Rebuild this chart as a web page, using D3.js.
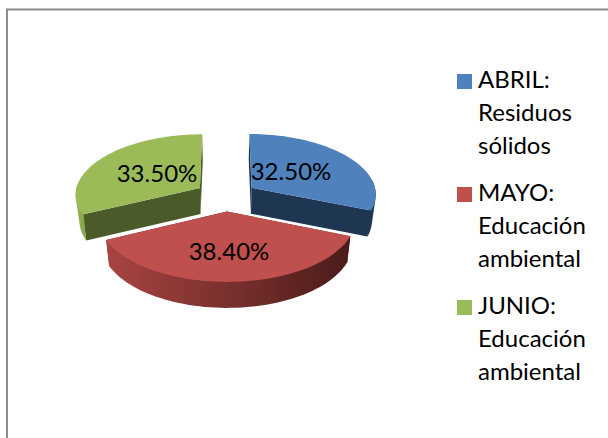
<!DOCTYPE html>
<html>
<head>
<meta charset="utf-8">
<script src="https://cdn.jsdelivr.net/npm/d3@7"></script>
<style>
  html, body { margin: 0; padding: 0; background: #fff; }
  text { font-family: Lato, "Open Sans", sans-serif; fill: #000; }
</style>
</head>
<body>
<div id="chart"></div>
<script>
const categories = ["ABRIL", "MAYO", "JUNIO"];
const legendLines = [
  ["ABRIL:", "Residuos", "sólidos"],
  ["MAYO:", "Educación", "ambiental"],
  ["JUNIO:", "Educación", "ambiental"]
];
const values = [32.5, 38.4, 33.5];
const valueLabels = ["32.50%", "38.40%", "33.50%"];

const topColors = ["#4f81bd", "#c0504d", "#9bbb59"];
const wallColors = ["#1f3653", "#4f1f1d", "#4a5a28"];
const rimFrom = ["#1f3653", "#a84442", "#95b457"];
const rimTo = ["#1f3653", "#4a1c1a", "#8aa84f"];

const width = 608, height = 438;
const cx = 226, cy = 196;
const rx = 125, ry = 60.4;
const persp = 0.097;
const explode = 0.25;
const depth = 26;
const baseShrink = 0.975;

const svg = d3.select("#chart")
  .append("svg")
  .attr("width", width)
  .attr("height", height);

// chart area border, only top and left show in the picture
svg.append("path")
  .attr("d", `M7,${height}V9.5H${width}`)
  .attr("fill", "none")
  .attr("stroke", "#8c8c8c")
  .attr("stroke-width", 2);

const defs = svg.append("defs");

// project a point on the pie plane to the screen
function project(X, Z, low) {
  const s = 1 / (1 + persp * Z);
  const k = low ? baseShrink : 1;
  return [
    cx + rx * X * s * k,
    cy - ry * Z * s + (low ? depth : 0)
  ];
}

const pie = d3.pie().sort(null).value(d => d);
const arcs = pie(values);

const line = d3.line();

const slices = arcs.map((a, i) => {
  const mid = (a.startAngle + a.endAngle) / 2;
  const ox = explode * Math.sin(mid), oz = explode * Math.cos(mid);
  const angles = d3.range(0, 61).map(k => a.startAngle + (a.endAngle - a.startAngle) * k / 60);
  const rim = angles.map(t => [ox + Math.sin(t), oz + Math.cos(t)]);
  return { i, a, apex: [ox, oz], rim, mid };
});

const ring = (s, low) => s.rim.map(p => project(p[0], p[1], low));
const apexTop = s => project(s.apex[0], s.apex[1], false);
const apexLow = s => project(s.apex[0], s.apex[1], true);

const g = svg.append("g");

// back slices first, the red one sits in front
[0, 2, 1].forEach(i => {
  const s = slices[i];
  const top = ring(s, false), low = ring(s, true);

  // cut walls
  g.append("path")
    .attr("d", line([apexTop(s), top[0], low[0], apexLow(s)]) + "Z")
    .attr("fill", wallColors[i]);
  g.append("path")
    .attr("d", line([apexTop(s), top[60], low[60], apexLow(s)]) + "Z")
    .attr("fill", wallColors[i]);

  // outer rim, only the part facing the viewer. hull keeps the silhouette clean
  const keep = d3.range(0, 61).filter(k => Math.cos(s.a.startAngle + (s.a.endAngle - s.a.startAngle) * k / 60) < 0.15);
  if (keep.length > 1) {
    const xs = keep.map(k => top[k][0]);
    const grad = defs.append("linearGradient")
      .attr("id", "rim" + i)
      .attr("gradientUnits", "userSpaceOnUse")
      .attr("x1", d3.min(xs)).attr("x2", d3.max(xs))
      .attr("y1", 0).attr("y2", 0);
    grad.append("stop").attr("offset", 0).attr("stop-color", rimFrom[i]);
    grad.append("stop").attr("offset", 1).attr("stop-color", rimTo[i]);
    const hull = d3.polygonHull(keep.map(k => top[k]).concat(keep.map(k => low[k])));
    g.append("path")
      .attr("d", line(hull) + "Z")
      .attr("fill", `url(#rim${i})`);
  }

  // top face
  g.append("path")
    .attr("d", line([apexTop(s), ...top]) + "Z")
    .attr("fill", topColors[i]);
});

// value labels, hand placed in the original
const labelPos = [[291, 180], [229, 260], [157, 182]];
valueLabels.forEach((t, i) => {
  svg.append("text")
    .attr("x", labelPos[i][0])
    .attr("y", labelPos[i][1])
    .attr("text-anchor", "middle")
    .style("font-size", "24px")
    .text(t);
});

// legend
const legend = svg.append("g").attr("class", "legend");
categories.forEach((c, i) => {
  const y0 = 88 + i * 113;
  legend.append("rect")
    .attr("x", 457).attr("y", y0 - 14)
    .attr("width", 15).attr("height", 15)
    .attr("fill", topColors[i]);
  legendLines[i].forEach((t, j) => {
    legend.append("text")
      .attr("x", 478)
      .attr("y", y0 + j * 33)
      .style("font-size", "24px")
      .text(t);
  });
});
</script>
</body>
</html>
